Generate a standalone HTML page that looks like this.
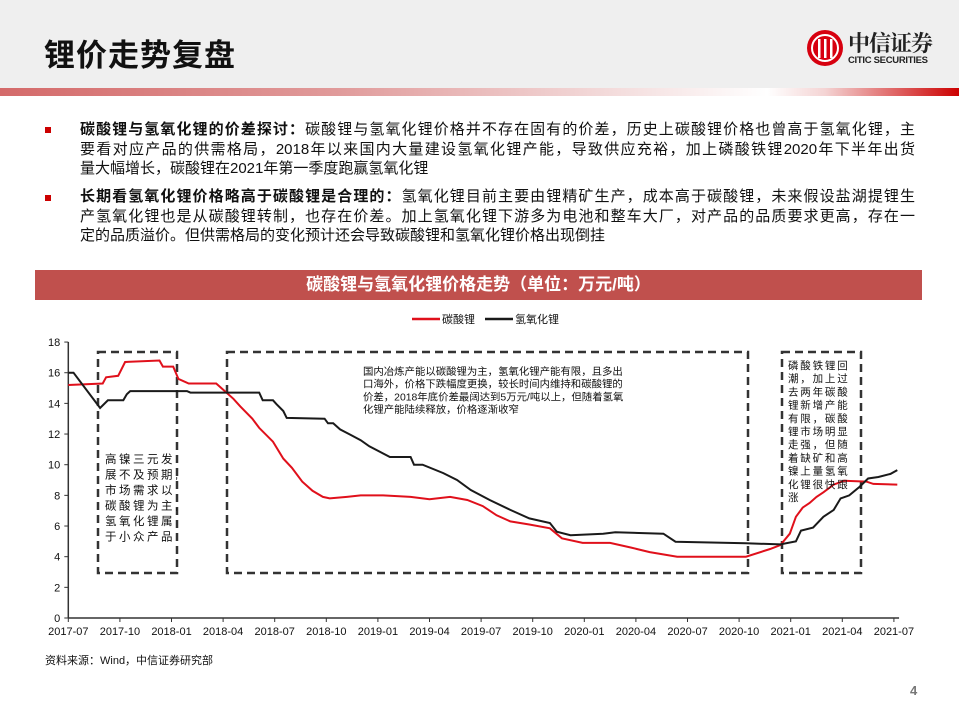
<!DOCTYPE html>
<html><head><meta charset="utf-8">
<style>
body{margin:0;width:959px;height:719px;position:relative;background:#fff;font-family:"Liberation Sans","Noto Sans CJK SC",sans-serif;overflow:hidden}
.hdr{position:absolute;left:0;top:0;width:959px;height:88px;background:#efefef}
.title{position:absolute;left:44px;top:30px;font-size:31px;font-weight:bold;color:#111;letter-spacing:1px}
.grad{position:absolute;left:0;top:88px;width:959px;height:8px;background:linear-gradient(90deg,#d46a6a 0%,#e09a9a 35%,#f4dede 65%,#fff 80%,#f4d4d4 86%,#c00 100%)}
.b{position:absolute;left:80px;width:835px;font-size:15px;line-height:19.5px;color:#111}
.b div{text-align:justify;text-align-last:justify;white-space:nowrap;height:19.5px}
.b div.last{text-align-last:left}
.sq{position:absolute;left:45px;width:6px;height:6px;background:#c00}
.bar{position:absolute;left:35px;top:270px;width:887px;height:30px;background:#c0504d;color:#fff;font-weight:bold;font-size:17px;text-align:center;line-height:30px}
.src{position:absolute;left:45px;top:652px;font-size:11px;color:#111}
.pg{position:absolute;left:910px;top:683px;font-size:13px;color:#777;font-weight:bold}
</style></head><body>
<div class="hdr"></div>
<div class="title">锂价走势复盘</div>
<div style="position:absolute;left:806px;top:29px;width:132px;height:40px">
<svg width="38" height="38" style="position:absolute;left:0;top:0"><circle cx="19" cy="19" r="18" fill="#d7000f"/><circle cx="19" cy="19" r="13" fill="none" stroke="#fff" stroke-width="2"/><rect x="12" y="10" width="2.5" height="19" fill="#fff"/><rect x="18" y="10" width="2.5" height="19" fill="#fff"/><rect x="24" y="10" width="2.5" height="19" fill="#fff"/></svg>
<div style="position:absolute;left:42px;top:-2px;font-size:22px;font-weight:bold;color:#222;font-family:'Noto Serif CJK SC',serif;letter-spacing:-1px">中信证券</div>
<div style="position:absolute;left:42px;top:26px;font-size:9.5px;font-weight:bold;color:#222;letter-spacing:-0.3px">CITIC SECURITIES</div>
</div>
<div class="grad"></div>

<div class="sq" style="top:127px"></div>
<div class="b" style="top:120px">
<div><b>碳酸锂与氢氧化锂的价差探讨：</b>碳酸锂与氢氧化锂价格并不存在固有的价差，历史上碳酸锂价格也曾高于氢氧化锂，主</div>
<div>要看对应产品的供需格局，2018年以来国内大量建设氢氧化锂产能，导致供应充裕，加上磷酸铁锂2020年下半年出货</div>
<div class="last">量大幅增长，碳酸锂在2021年第一季度跑赢氢氧化锂</div></div>
<div class="sq" style="top:195px"></div>
<div class="b" style="top:187px">
<div><b>长期看氢氧化锂价格略高于碳酸锂是合理的：</b>氢氧化锂目前主要由锂精矿生产，成本高于碳酸锂，未来假设盐湖提锂生</div>
<div>产氢氧化锂也是从碳酸锂转制，也存在价差。加上氢氧化锂下游多为电池和整车大厂，对产品的品质要求更高，存在一</div>
<div class="last">定的品质溢价。但供需格局的变化预计还会导致碳酸锂和氢氧化锂价格出现倒挂</div></div>

<div class="bar">碳酸锂与氢氧化锂价格走势（单位：万元/吨）</div>

<svg id="chart" width="959" height="719" style="position:absolute;left:0;top:0"></svg>

<div class="src">资料来源：Wind，中信证券研究部</div>
<div class="pg">4</div>

<script>
const yTicks=[0,2,4,6,8,10,12,14,16,18];
const xTickLabels=["2017-07","2017-10","2018-01","2018-04","2018-07","2018-10","2019-01","2019-04","2019-07","2019-10","2020-01","2020-04","2020-07","2020-10","2021-01","2021-04","2021-07"];
// month offsets from 2017-07
const carbMonths=[0,2.0,2.2,2.9,3.3,5.3,5.5,6.1,6.4,7.0,8.6,9.0,9.6,10.0,10.7,11.1,11.9,12.5,13.0,13.6,14.2,14.8,15.2,16.2,17.0,18.3,19.9,21.0,22.2,23.2,24.1,24.9,25.7,26.8,28.0,28.7,29.9,31.5,32.7,33.8,35.4,39.4,40.8,41.4,41.95,42.3,42.7,43.1,43.5,43.9,44.5,45.1,46.4,46.8,48.2];
const carbValues=[15.2,15.3,15.7,15.8,16.7,16.8,16.4,16.4,15.6,15.3,15.3,14.9,14.3,13.8,13.0,12.4,11.5,10.4,9.8,8.9,8.3,7.9,7.8,7.9,8.0,8.0,7.9,7.75,7.9,7.7,7.3,6.7,6.3,6.1,5.85,5.2,4.9,4.9,4.6,4.3,4.0,4.0,4.5,4.76,5.5,6.6,7.2,7.5,7.9,8.2,8.7,8.95,8.9,8.75,8.7];
const hydMonths=[0,0.3,1.85,2.3,3.2,3.4,3.6,6.9,7.1,11.1,11.3,11.9,12.1,12.5,12.7,14.9,15.1,15.4,15.8,16.4,17.0,17.5,18.7,19.9,20.1,20.6,21.8,22.6,23.4,24.5,25.7,26.8,28.0,28.4,29.2,31.1,31.8,34.6,35.3,39.4,41.4,42.3,42.6,43.3,43.9,44.5,44.9,45.4,46.0,46.5,47.1,47.8,48.2];
const hydValues=[16.0,16.0,13.7,14.2,14.2,14.6,14.8,14.8,14.7,14.7,14.2,14.2,13.95,13.5,13.05,13.0,12.7,12.7,12.3,11.95,11.6,11.2,10.5,10.5,10.0,10.0,9.45,9.0,8.35,7.7,7.05,6.5,6.2,5.63,5.4,5.5,5.6,5.5,4.98,4.87,4.8,5.0,5.7,5.9,6.6,7.05,7.8,8.0,8.55,9.1,9.2,9.4,9.65];

const svg=document.getElementById('chart');
const NS='http://www.w3.org/2000/svg';
const X0=68.3,MPX=17.2,Y0=618,YPX=15.33;
const xs=m=>X0+m*MPX, ys=v=>Y0-v*YPX;
function mk(tag,attrs){const e=document.createElementNS(NS,tag);for(const k in attrs)e.setAttribute(k,attrs[k]);svg.appendChild(e);return e;}

let ax=mk('line',{x1:X0,y1:Y0,x2:X0,y2:ys(18),stroke:'#333','stroke-width':1.5});


let axx=mk('line',{x1:X0,y1:Y0,x2:xs(48.3),y2:Y0,stroke:'#333','stroke-width':1.5});


yTicks.forEach(v=>{
  mk('line',{x1:X0-4,y1:ys(v),x2:X0,y2:ys(v),stroke:'#333'});
  const t=mk('text',{x:X0-8,y:ys(v)+4,'font-size':11,'text-anchor':'end',fill:'#111'});
  t.textContent=v;
  
  
});
xTickLabels.forEach((l,i)=>{
  const x=xs(i*3);
  mk('line',{x1:x,y1:Y0,x2:x,y2:Y0+4,stroke:'#333'});
  const t=mk('text',{x:x,y:Y0+17,'font-size':11,'text-anchor':'middle',fill:'#111'});
  t.textContent=l;
  
  
});

function box(x1,x2,name){
  const r=mk('rect',{x:x1,y:352,width:x2-x1,height:221,fill:'none',stroke:'#333','stroke-width':2.5,'stroke-dasharray':'8,5'});
  
  
}
box(98,177,'annotation-box-1');box(227,748,'annotation-box-2');box(782,861,'annotation-box-3');

function stepPath(ms,vs){let d='';ms.forEach((m,i)=>{d+=(i?'L':'M')+xs(m).toFixed(1)+','+ys(vs[i]).toFixed(1);});return d;}
const pc=mk('path',{d:stepPath(carbMonths,carbValues),fill:'none',stroke:'#e0101b','stroke-width':2});


const ph=mk('path',{d:stepPath(hydMonths,hydValues),fill:'none',stroke:'#1a1a1a','stroke-width':2});



const l1=mk('line',{x1:412,y1:319,x2:440,y2:319,stroke:'#e0101b','stroke-width':2.5});


const lt1=mk('text',{x:442,y:323,'font-size':11,fill:'#111'});lt1.textContent='碳酸锂';


const l2=mk('line',{x1:485,y1:319,x2:513,y2:319,stroke:'#1a1a1a','stroke-width':2.5});


const lt2=mk('text',{x:515,y:323,'font-size':11,fill:'#111'});lt2.textContent='氢氧化锂';



function lines(arr,x,y,lh,fs,name,ls){
  const t=mk('text',{x:x,y:y,'font-size':fs,fill:'#111','letter-spacing':ls||0});
  
  
  arr.forEach((s,i)=>{const sp=document.createElementNS(NS,'tspan');sp.setAttribute('x',x);sp.setAttribute('y',y+i*lh);sp.textContent=s;t.appendChild(sp);});
}
lines(['高镍三元发','展不及预期,','市场需求以','碳酸锂为主,','氢氧化锂属','于小众产品'],105,463,15.5,11.5,'annotation-text-1',2.5);
lines(['国内冶炼产能以碳酸锂为主，氢氧化锂产能有限，且多出','口海外，价格下跌幅度更换，较长时间内维持和碳酸锂的','价差，2018年底价差最阔达到5万元/吨以上，但随着氢氧','化锂产能陆续释放，价格逐渐收窄'],363,375,12.7,10.4,'annotation-text-2');
lines(['磷酸铁锂回','潮，加上过','去两年碳酸','锂新增产能','有限，碳酸','锂市场明显','走强，但随','着缺矿和高','镍上量氢氧','化锂很快跟','涨'],788,369,13.2,10.5,'annotation-text-3',1.8);
</script>
</body></html>
